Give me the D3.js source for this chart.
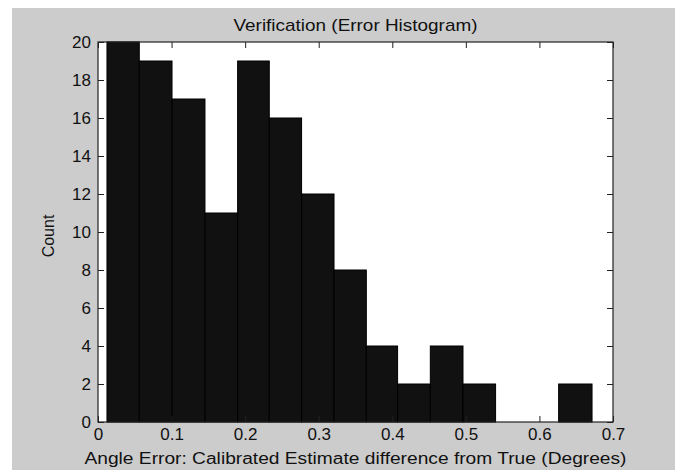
<!DOCTYPE html>
<html>
<head>
<meta charset="utf-8">
<script src="https://cdn.jsdelivr.net/npm/d3@7"></script>
<style>
  html, body { margin: 0; padding: 0; background: #ffffff; }
  svg { display: block; }
  text { font-family: "Liberation Sans", Arial, Helvetica, sans-serif; fill: #111; }
</style>
</head>
<body>
<svg id="chart" width="675" height="470"></svg>
<script>
// ---- data ----
const binEdges = [0.0122, 0.0561, 0.1006, 0.1454, 0.1898, 0.2328, 0.2767, 0.3208,
                  0.3647, 0.4072, 0.4517, 0.4961, 0.5404, 0.5845, 0.6261, 0.6715];
const counts = [20, 19, 17, 11, 19, 16, 12, 8, 4, 2, 4, 2, 0, 0, 2];
const xTicks = [0, 0.1, 0.2, 0.3, 0.4, 0.5, 0.6, 0.7];
const yTicks = [0, 2, 4, 6, 8, 10, 12, 14, 16, 18, 20];
const titleText = "Verification (Error Histogram)";
const xLabelText = "Angle Error: Calibrated Estimate difference from True (Degrees)";
const yLabelText = "Count";

// ---- layout ----
const W = 675, H = 470;
const plot = { left: 98, top: 42, right: 613, bottom: 422 };
const svg = d3.select("#chart");

// figure background
svg.append("rect").attr("x", 12).attr("y", 8).attr("width", W - 12).attr("height", H - 8)
  .attr("fill", "#cccccc");

const x = d3.scaleLinear().domain([0, 0.7]).range([plot.left, plot.right]);
const y = d3.scaleLinear().domain([0, 20]).range([plot.bottom, plot.top]);

// axes background
svg.append("rect")
  .attr("x", plot.left).attr("y", plot.top)
  .attr("width", plot.right - plot.left).attr("height", plot.bottom - plot.top)
  .attr("fill", "#ffffff");

// bars
const bins = counts.map((c, i) => ({ x0: binEdges[i], x1: binEdges[i + 1], c }));
svg.append("g").selectAll("rect").data(bins.filter(d => d.c > 0)).join("rect")
  .attr("x", d => x(d.x0))
  .attr("y", d => y(d.c))
  .attr("width", d => x(d.x1) - x(d.x0))
  .attr("height", d => y(0) - y(d.c))
  .attr("fill", "#111111")
  .attr("stroke", "#000000")
  .attr("stroke-width", 1);

// axes with inward ticks on all four sides
const tickLen = 6;
const fmtX = d => d === 0 ? "0" : d3.format(".1f")(d);

const gx = svg.append("g").attr("transform", `translate(0,${plot.bottom})`)
  .call(d3.axisBottom(x).tickValues(xTicks).tickFormat(fmtX).tickSizeInner(-tickLen).tickSizeOuter(0).tickPadding(6));
const gxTop = svg.append("g").attr("transform", `translate(0,${plot.top})`)
  .call(d3.axisTop(x).tickValues(xTicks).tickFormat("").tickSizeInner(-tickLen).tickSizeOuter(0));
const gy = svg.append("g").attr("transform", `translate(${plot.left},0)`)
  .call(d3.axisLeft(y).tickValues(yTicks).tickSizeInner(-tickLen).tickSizeOuter(0).tickPadding(7));
const gyRight = svg.append("g").attr("transform", `translate(${plot.right},0)`)
  .call(d3.axisRight(y).tickValues(yTicks).tickFormat("").tickSizeInner(-tickLen).tickSizeOuter(0));

[gx, gxTop, gy, gyRight].forEach(g => {
  g.select(".domain").remove();
  g.selectAll(".tick line").attr("stroke", "#222").attr("stroke-width", 1);
  g.selectAll(".tick text").attr("font-size", 17).attr("fill", "#111")
    .attr("font-family", "'Liberation Sans', Arial, sans-serif");
});

// frame
svg.append("rect")
  .attr("x", plot.left).attr("y", plot.top)
  .attr("width", plot.right - plot.left).attr("height", plot.bottom - plot.top)
  .attr("fill", "none").attr("stroke", "#222").attr("stroke-width", 1.2);

// title
svg.append("text")
  .attr("x", (plot.left + plot.right) / 2).attr("y", 31)
  .attr("text-anchor", "middle").attr("font-size", 17)
  .attr("textLength", 244).attr("lengthAdjust", "spacingAndGlyphs")
  .text(titleText);

// x label
svg.append("text")
  .attr("x", (plot.left + plot.right) / 2).attr("y", 464)
  .attr("text-anchor", "middle").attr("font-size", 16)
  .attr("textLength", 542).attr("lengthAdjust", "spacingAndGlyphs")
  .text(xLabelText);

// y label
svg.append("text")
  .attr("transform", `translate(54,${(plot.top + plot.bottom) / 2 + 4}) rotate(-90)`)
  .attr("text-anchor", "middle").attr("font-size", 16)
  .text(yLabelText);
</script>
</body>
</html>
